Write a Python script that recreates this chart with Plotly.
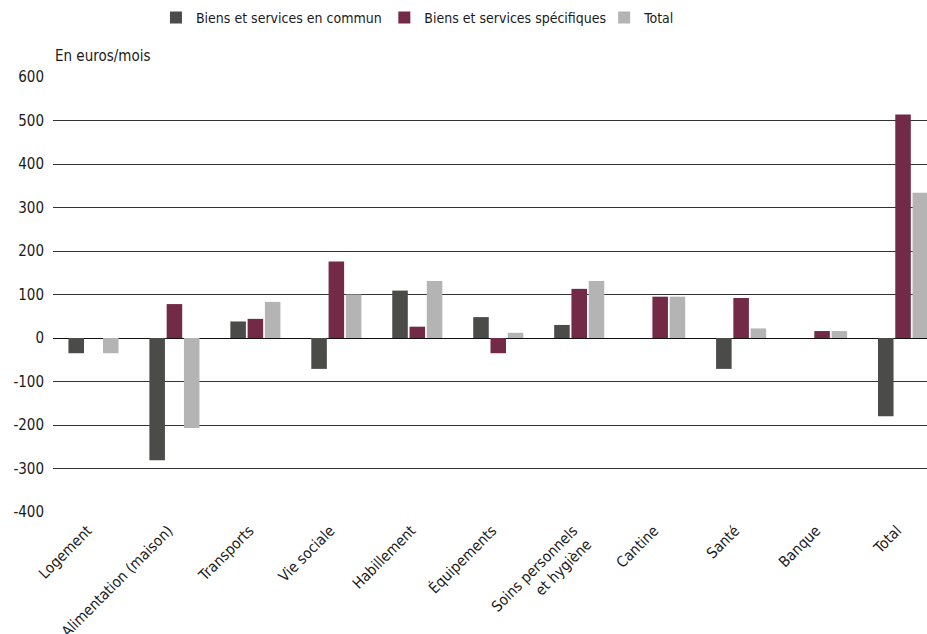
import plotly.graph_objects as go

# Postes de dépense
categories = [
    "Logement", "Alimentation (maison)", "Transports", "Vie sociale",
    "Habillement", "Équipements", "Soins personnels<br>et hygiène",
    "Cantine", "Santé", "Banque", "Total",
]

# Écarts en euros par mois (None : pas de barre)
commun = [-35, -281, 38, -71, 109, 48, 30, None, -71, None, -180]
specifiques = [None, 78, 44, 176, 26, -35, 113, 95, 92, 16, 514]
total = [-35, -207, 83, 100, 131, 12, 131, 95, 22, 16, 334]

series_names = ["Biens et services en commun", "Biens et services spécifiques", "Total"]
series_colors = ["#4b4b49", "#722a46", "#b4b4b4"]

y_ticks = [-400, -300, -200, -100, 0, 100, 200, 300, 400, 500, 600]
y_ticktext = ["-400", "-300", "-200", "-100", "0", "100", "200", "300", "400", "500", "600"]

FONT = "Liberation Sans Narrow, Arial Narrow, DejaVu Sans Condensed, sans-serif"
TXT = "#1a1a1a"

legend_ids = ["legend", "legend2", "legend3"]
legend_x = [0.1178, 0.3791, 0.6306]

fig = go.Figure()
for name, vals, col, lg in zip(series_names, [commun, specifiques, total], series_colors, legend_ids):
    fig.add_trace(go.Bar(
        x=list(range(len(categories))), y=vals, name=name, legend=lg,
        marker=dict(color=col, line=dict(width=0)),
    ))

legend_style = dict(
    orientation="h", xanchor="left", y=1.136, yanchor="middle",
    font=dict(family=FONT, size=14, color=TXT), bgcolor="rgba(0,0,0,0)",
)

fig.update_layout(
    width=927, height=634,
    margin=dict(l=52.5, r=0, t=77, b=122),
    paper_bgcolor="white", plot_bgcolor="white",
    barmode="group", bargap=0.36, bargroupgap=0.1,
    font=dict(family=FONT, size=15, color=TXT),
    showlegend=True,
    legend=dict(x=legend_x[0], **legend_style),
    legend2=dict(x=legend_x[1], **legend_style),
    legend3=dict(x=legend_x[2], **legend_style),
    annotations=[dict(
        text="En euros/mois", x=0, xref="paper", xanchor="left",
        y=1.048, yref="paper", yanchor="middle", showarrow=False,
        font=dict(family=FONT, size=15, color=TXT),
    )],
)

fig.update_xaxes(
    range=[-0.5, 10.296], automargin=False,
    tickmode="array", tickvals=list(range(len(categories))), ticktext=categories,
    tickangle=-45, showgrid=False, showline=False, ticks="",
    ticklabelshift=-6, ticklabelstandoff=6,
    tickfont=dict(family=FONT, size=15, color=TXT),
)
fig.update_yaxes(
    range=[-400, 600], automargin=False,
    tickmode="array", tickvals=y_ticks, ticktext=y_ticktext,
    showgrid=True, gridcolor="#333333", gridwidth=1,
    zeroline=True, zerolinecolor="#111111", zerolinewidth=1.2,
    showline=False, ticks="", ticklabelstandoff=8,
    tickfont=dict(family=FONT, size=15, color=TXT),
)

fig.write_html("out.html")
